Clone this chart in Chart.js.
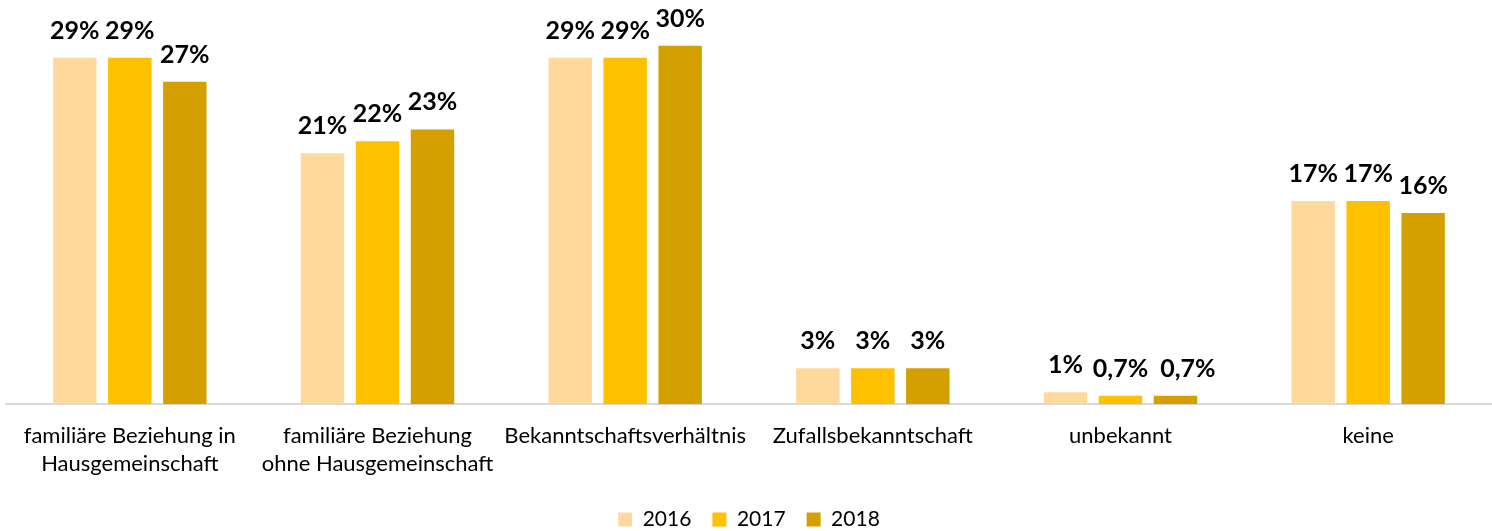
<!DOCTYPE html>
<html lang="de">
<head>
<meta charset="utf-8">
<title>Täter-Opfer-Beziehung 2016–2018</title>
<script src="https://cdn.jsdelivr.net/npm/chart.js@4.4.1/dist/chart.umd.min.js"></script>
<style>
  html, body { margin: 0; padding: 0; background: #fff; }
  #wrap { position: relative; width: 1492px; height: 531px; }
</style>
</head>
<body>
<div id="wrap"><canvas id="chart"></canvas></div>
<script>
// ---- Data ----
const categories = [
  ['familiäre Beziehung in', 'Hausgemeinschaft'],
  ['familiäre Beziehung', 'ohne Hausgemeinschaft'],
  'Bekanntschaftsverhältnis',
  'Zufallsbekanntschaft',
  'unbekannt',
  'keine'
];
const years = ['2016', '2017', '2018'];
const values2016 = [29, 21, 29, 3, 1, 17];
const values2017 = [29, 22, 29, 3, 0.7, 17];
const values2018 = [27, 23, 30, 3, 0.7, 16];
const colors = ['#FFD89E', '#FFC000', '#D4A000'];

const FONT = 'Lato, "Open Sans", sans-serif';

// ---- Value labels above the bars (German decimal comma) ----
// a label that actually overlaps its left neighbour gets pushed right
const valueLabels = {
  id: 'valueLabels',
  afterDatasetsDraw(chart) {
    const { ctx } = chart;
    ctx.save();
    ctx.font = `bold 25px ${FONT}`;
    ctx.fillStyle = '#000';
    ctx.textAlign = 'center';
    ctx.textBaseline = 'alphabetic';
    chart.data.labels.forEach((_, j) => {
      let prevRight = -Infinity, prevY = null;
      chart.data.datasets.forEach((ds, i) => {
        const bar = chart.getDatasetMeta(i).data[j];
        const txt = String(ds.data[j]).replace('.', ',') + '%';
        const w = ctx.measureText(txt).width;
        const y = bar.y - 19;
        let x = bar.x;
        if (prevY !== null && Math.abs(prevY - y) < 8 && x - w / 2 < prevRight + 2) {
          x = prevRight + 12 + w / 2;
        }
        ctx.fillText(txt, x, y);
        prevRight = x + w / 2;
        prevY = y;
      });
    });
    ctx.restore();
  }
};

const seriesData = [values2016, values2017, values2018];

new Chart(document.getElementById('chart'), {
  type: 'bar',
  data: {
    labels: categories,
    datasets: years.map((y, i) => ({
      label: y,
      data: seriesData[i],
      backgroundColor: colors[i],
      borderWidth: 0,
      categoryPercentage: 0.666,
      barPercentage: 0.79
    }))
  },
  options: {
    responsive: true,
    maintainAspectRatio: false,
    animation: false,
    layout: { padding: { top: 10, left: 6, right: 0, bottom: -9 } },
    scales: {
      x: {
        grid: { display: false },
        border: { color: '#D9D9D9', width: 2 },
        ticks: {
          color: '#000',
          autoSkip: false,
          maxRotation: 0,
          padding: 10,
          font: { family: FONT, size: 22, lineHeight: 1.27 }
        }
      },
      y: {
        display: false,
        min: 0,
        max: 33
      }
    },
    plugins: {
      legend: {
        position: 'bottom',
        labels: {
          color: '#000',
          boxWidth: 14,
          boxHeight: 14,
          padding: 21,
          font: { family: FONT, size: 21 }
        }
      },
      tooltip: { enabled: false }
    }
  },
  plugins: [valueLabels]
});
</script>
</body>
</html>
